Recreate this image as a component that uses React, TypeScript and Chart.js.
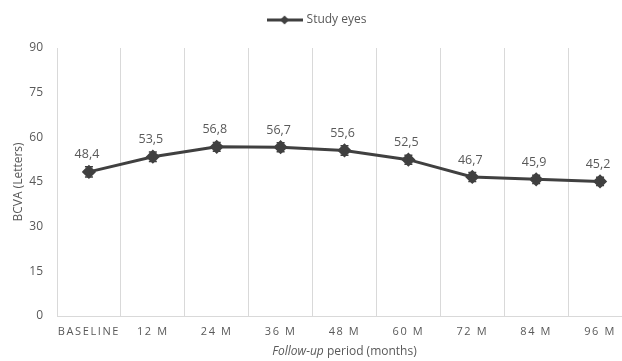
import { useEffect, useRef } from "react";
import { Chart, registerables } from "chart.js";
Chart.register(...registerables);

const categories = ["BASELINE", "12 M", "24 M", "36 M", "48 M", "60 M", "72 M", "84 M", "96 M"];
const bcva = [48.4, 53.5, 56.8, 56.7, 55.6, 52.5, 46.7, 45.9, 45.2];
const errors = [1.7, 1.6, 1.5, 1.5, 1.6, 1.5, 1.5, 1.4, 1.4];
const yMin = 0;
const yMax = 90;
const yStep = 15;
const seriesLabel = "Study eyes";
const yTitle = "BCVA (Letters)";
const xTitleItalic = "Follow-up";
const xTitleRest = " period (months)";

const FONT = "'Open Sans', 'DejaVu Sans', sans-serif";
const TEXT = "#595959";
const LINE = "#404040";
const GRID = "#d9d9d9";

function legendImage() {
  const c = document.createElement("canvas");
  c.width = 36;
  c.height = 12;
  const ctx = c.getContext("2d")!;
  ctx.strokeStyle = LINE;
  ctx.lineWidth = 3;
  ctx.beginPath();
  ctx.moveTo(0, 6);
  ctx.lineTo(36, 6);
  ctx.stroke();
  ctx.fillStyle = LINE;
  ctx.beginPath();
  ctx.moveTo(18, 1.5);
  ctx.lineTo(22.5, 6);
  ctx.lineTo(18, 10.5);
  ctx.lineTo(13.5, 6);
  ctx.closePath();
  ctx.fill();
  return c;
}

const legendSpacer = {
  id: "legendSpacer",
  beforeInit(chart: any) {
    const lg = chart.legend;
    if (lg && !lg.__patched) {
      const fit = lg.fit;
      lg.fit = function () {
        fit.call(this);
        this.height += 12;
      };
      lg.__patched = true;
    }
  },
};

const overlayPlugin = {
  id: "overlay",
  afterDatasetsDraw(chart: any) {
    const ctx = chart.ctx;
    const meta = chart.getDatasetMeta(0);
    const ys = chart.scales.y;
    ctx.save();
    ctx.strokeStyle = LINE;
    ctx.lineWidth = 1.5;
    meta.data.forEach((pt: any, i: number) => {
      const top = ys.getPixelForValue(bcva[i] + errors[i]);
      const bot = ys.getPixelForValue(bcva[i] - errors[i]);
      ctx.beginPath();
      ctx.moveTo(pt.x, top);
      ctx.lineTo(pt.x, bot);
      ctx.moveTo(pt.x - 4, top);
      ctx.lineTo(pt.x + 4, top);
      ctx.moveTo(pt.x - 4, bot);
      ctx.lineTo(pt.x + 4, bot);
      ctx.stroke();
    });
    ctx.fillStyle = TEXT;
    ctx.font = `12.5px ${FONT}`;
    ctx.textAlign = "center";
    ctx.textBaseline = "middle";
    meta.data.forEach((pt: any, i: number) => {
      ctx.fillText(bcva[i].toFixed(1).replace(".", ","), pt.x - 2, pt.y - 17);
    });
    ctx.restore();
  },
  afterDraw(chart: any) {
    const ctx = chart.ctx;
    const area = chart.chartArea;
    ctx.save();
    ctx.fillStyle = TEXT;
    ctx.textBaseline = "middle";
    ctx.textAlign = "left";
    const fi = `italic 12px ${FONT}`;
    const fn = `12px ${FONT}`;
    ctx.font = fi;
    const w1 = ctx.measureText(xTitleItalic).width;
    ctx.font = fn;
    const w2 = ctx.measureText(xTitleRest).width;
    const cx = (area.left + area.right) / 2;
    const x0 = cx - (w1 + w2) / 2;
    const y = 352;
    ctx.font = fi;
    ctx.fillText(xTitleItalic, x0, y);
    ctx.font = fn;
    ctx.fillText(xTitleRest, x0 + w1, y);
    ctx.restore();
  },
};

export default function App() {
  const ref = useRef<HTMLCanvasElement>(null);
  useEffect(() => {
    const img = legendImage();
    const chart = new Chart(ref.current!, {
      type: "line",
      data: {
        labels: categories,
        datasets: [
          {
            label: seriesLabel,
            data: bcva,
            borderColor: LINE,
            backgroundColor: LINE,
            borderWidth: 3,
            pointStyle: "rectRot",
            pointRadius: 5,
            pointBackgroundColor: LINE,
            pointBorderColor: LINE,
            tension: 0,
          },
        ],
      },
      options: {
        responsive: false,
        animation: false,
        layout: { padding: { top: 4, right: 5, left: 0, bottom: 0 } },
        plugins: {
          tooltip: { enabled: false },
          legend: {
            position: "top",
            labels: {
              usePointStyle: true,
              pointStyleWidth: 32,
              color: TEXT,
              font: { family: FONT, size: 12 },
              padding: 10,
              generateLabels: () => [
                {
                  text: seriesLabel,
                  pointStyle: img as any,
                  fillStyle: LINE,
                  strokeStyle: LINE,
                  lineWidth: 0,
                  fontColor: TEXT,
                  hidden: false,
                  datasetIndex: 0,
                } as any,
              ],
            },
          },
        },
        scales: {
          x: {
            offset: true,
            grid: { offset: true, color: GRID, lineWidth: 1, drawTicks: false },
            border: { display: true, color: GRID, width: 1 },
            ticks: {
              color: TEXT,
              font: { family: FONT, size: 11 },
              padding: 9,
              maxRotation: 0,
              autoSkip: false,
            },
            afterFit: (s: any) => {
              s.height = 45;
            },
            afterUpdate: (s: any) => {
              if (!s.__patched) {
                const orig = s.drawLabels;
                s.drawLabels = function (area: any) {
                  const c = this.ctx;
                  c.save();
                  (c as any).letterSpacing = "1.6px";
                  orig.call(this, area);
                  c.restore();
                };
                s.__patched = true;
              }
            },
          },
          y: {
            min: yMin,
            max: yMax,
            grid: { display: false, drawTicks: false },
            border: { display: false },
            ticks: {
              stepSize: yStep,
              color: TEXT,
              font: { family: FONT, size: 12 },
              padding: 14,
            },
            title: {
              display: true,
              text: yTitle,
              color: TEXT,
              font: { family: FONT, size: 12 },
              padding: { top: 11, bottom: 0 },
            },
            afterFit: (s: any) => {
              s.width = 57;
            },
          },
        },
      },
      plugins: [legendSpacer, overlayPlugin],
    });
    return () => chart.destroy();
  }, []);
  return (
    <div style={{ position: "absolute", left: 0, top: 0, width: 622, height: 361, overflow: "hidden", background: "#fff" }}>
      <canvas ref={ref} width={640} height={361} style={{ display: "block" }} />
    </div>
  );
}
